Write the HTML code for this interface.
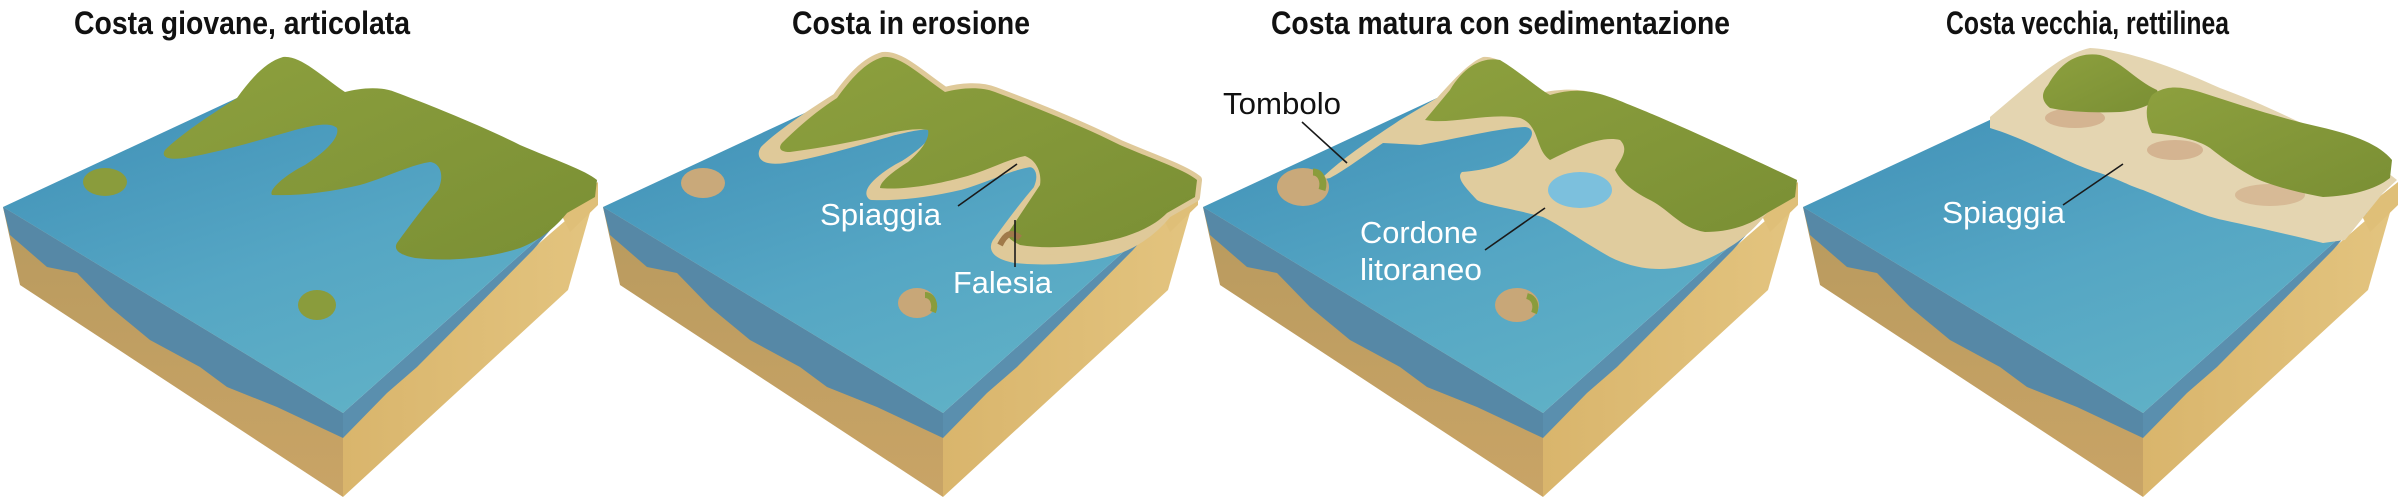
<!DOCTYPE html>
<html><head><meta charset="utf-8"><style>
html,body{margin:0;padding:0;background:#fff;}
svg{display:block;}
.t{font-family:"Liberation Sans Narrow","Liberation Sans",sans-serif;font-weight:bold;font-size:32px;fill:#111;}
.l{font-family:"Liberation Sans Narrow","Liberation Sans",sans-serif;font-size:31px;}
</style></head><body>
<svg width="2402" height="501" viewBox="0 0 2402 501" xmlns="http://www.w3.org/2000/svg">
<defs>
<linearGradient id="wt" x1="0" y1="0" x2="0.6" y2="1">
<stop offset="0" stop-color="#3f8fb6"/><stop offset="0.6" stop-color="#55a6c4"/><stop offset="1" stop-color="#5fb0c6"/></linearGradient>
<linearGradient id="gr" x1="0" y1="0" x2="1" y2="1">
<stop offset="0" stop-color="#8da03e"/><stop offset="1" stop-color="#7a8f34"/></linearGradient>
<linearGradient id="sl" x1="0" y1="0" x2="0" y2="1">
<stop offset="0" stop-color="#b89a5e"/><stop offset="1" stop-color="#c9a466"/></linearGradient>
<linearGradient id="sr" x1="0" y1="0" x2="1" y2="0">
<stop offset="0" stop-color="#d9b56c"/><stop offset="1" stop-color="#e3c47f"/></linearGradient>
<g id="base">
<polygon points="3,207 343,413 343,497 20,285" fill="url(#sl)"/>
<polygon points="343,413 595,195 568,290 343,497" fill="url(#sr)"/>
<polygon points="560,212 598,182 598,205 570,232" fill="#dfbf78"/>
<path d="M3,207 L343,413 L343,438 L277,407 L227,387 L200,367 L150,340 L110,307 L77,273 L47,267 L10,235 Z" fill="#5688a6"/>
<path d="M343,413 L567,213 L553,227 L533,250 L417,367 L387,393 L343,438 Z" fill="#5a8fae"/>
<polygon points="3,207 343,413 567,213 520,175 300,105 237,98" fill="url(#wt)"/>
</g>
</defs>

<text class="t" x="74" y="34" textLength="336" lengthAdjust="spacingAndGlyphs">Costa giovane, articolata</text>
<text class="t" x="792" y="34" textLength="238" lengthAdjust="spacingAndGlyphs">Costa in erosione</text>
<text class="t" x="1271" y="34" textLength="459" lengthAdjust="spacingAndGlyphs">Costa matura con sedimentazione</text>
<text class="t" x="1946" y="34" textLength="283" lengthAdjust="spacingAndGlyphs">Costa vecchia, rettilinea</text>

<!-- Panel 1 -->
<g transform="translate(0,0)">
<use href="#base"/>
<path d="M237,98 C250,80 265,62 283,57 C300,55 320,75 345,92 C360,88 380,86 395,92 C430,105 480,125 520,145 C555,160 585,170 597,180 L595,197 L567,213 C555,228 540,240 520,248 C490,258 450,262 415,258 C400,255 393,250 397,243 C410,225 425,205 438,190 C445,175 440,163 430,162 C410,165 385,178 360,185 C330,192 300,196 272,195 C268,190 285,175 305,165 C325,152 340,138 337,128 C330,122 315,125 295,130 C260,140 220,152 185,158 C170,160 160,158 165,150 C180,135 210,115 237,98 Z" fill="url(#gr)"/>
<ellipse cx="105" cy="182" rx="22" ry="14" fill="#8a9c3c"/>
<ellipse cx="317" cy="305" rx="19" ry="15" fill="#8a9c3c"/>
</g>

<!-- Panel 2 -->
<g transform="translate(600,0)">
<use href="#base"/>
<path d="M237,98 C250,80 265,62 283,57 C300,55 320,75 345,92 C360,88 380,86 395,92 C430,105 480,125 520,145 C555,160 585,170 597,180 L595,197 L567,213 C555,228 540,240 520,248 C490,258 450,262 415,258 C400,255 393,250 397,243 C410,225 425,205 438,190 C445,175 440,163 430,162 C410,165 385,178 360,185 C330,192 300,196 272,195 C268,190 285,175 305,165 C325,152 340,138 337,128 C330,122 315,125 295,130 C260,140 220,152 185,158 C170,160 160,158 165,150 C180,135 210,115 237,98 Z" fill="#dfc999" stroke="#dfc999" stroke-width="10" stroke-linejoin="round"/>
<path d="M237,98 C250,80 265,62 283,57 C300,55 320,75 345,92 C360,88 380,86 395,92 C430,105 480,125 520,145 C555,160 585,170 597,180 L595,197 L567,213 C555,225 540,232 520,238 C490,246 450,250 420,245 C410,240 405,236 410,230 C420,215 430,200 440,185 C442,172 436,160 425,156 C405,160 385,172 360,178 C330,186 300,190 280,188 C280,182 292,172 308,162 C322,150 330,138 328,130 C318,128 305,130 290,133 C255,142 220,148 190,152 C180,152 178,148 182,143 C195,130 215,112 237,98 Z" fill="url(#gr)"/>
<path d="M400,245 C405,235 410,230 420,238" stroke="#a07a4a" stroke-width="6" fill="none"/>
<ellipse cx="103" cy="183" rx="22" ry="15" fill="#c9a97a"/>
<ellipse cx="317" cy="303" rx="19" ry="15" fill="#c8a778"/>
<path d="M325,295 C333,295 336,305 333,312" stroke="#8a9c3c" stroke-width="6" fill="none"/>
</g>

<!-- Panel 3 -->
<g transform="translate(1200,0)">
<use href="#base"/>
<path d="M237,98 C255,78 270,62 283,57 C300,55 320,75 345,92 C380,86 395,92 430,105 C480,125 555,160 597,180 L595,197 L567,213 C550,235 530,250 500,262 C470,272 440,272 410,257 C380,240 360,225 343,217 C310,208 285,205 277,200 C268,190 255,178 262,172 C285,170 310,165 320,150 C335,138 335,128 325,127 C300,128 260,138 220,145 L183,143 C165,155 145,170 130,178 L120,180 C140,160 170,140 200,120 Z" fill="#e0cc9e"/>
<path d="M250,90 C265,65 283,57 300,60 C320,72 340,90 350,95 C380,86 400,92 430,105 C480,125 555,160 597,180 L595,197 L567,213 C550,225 530,232 505,232 C480,228 470,210 450,200 C430,190 420,180 415,170 C420,160 430,150 420,140 C400,135 370,150 350,160 C335,150 340,125 320,118 C290,112 250,125 225,120 Z" fill="url(#gr)"/>
<ellipse cx="380" cy="190" rx="32" ry="18" fill="#7cc0dd"/>
<ellipse cx="103" cy="187" rx="26" ry="19" fill="#c9a97a"/>
<path d="M113,172 C120,172 125,180 122,190" stroke="#8a9c3c" stroke-width="7" fill="none"/>
<ellipse cx="317" cy="305" rx="22" ry="17" fill="#c8a778"/>
<path d="M327,296 C335,298 337,306 334,313" stroke="#8a9c3c" stroke-width="6" fill="none"/>
</g>

<!-- Panel 4 -->
<g transform="translate(1800,0)">
<use href="#base"/>
<path d="M190,128 C230,140 270,165 300,173 C320,180 330,186 343,190 C380,205 400,215 423,220 C460,228 495,236 523,243 L545,240 L583,193 L597,180 C560,150 480,110 420,88 C380,70 330,50 290,48 C260,55 240,75 190,117 Z" fill="#e4d5b1"/>
<ellipse cx="275" cy="118" rx="30" ry="10" fill="#c99f7c" opacity="0.6"/>
<ellipse cx="375" cy="150" rx="28" ry="10" fill="#c99f7c" opacity="0.6"/>
<ellipse cx="470" cy="195" rx="35" ry="11" fill="#c99f7c" opacity="0.5"/>
<path d="M248,85 C262,60 280,52 300,55 C320,60 335,80 357,90 C362,100 345,110 320,112 C295,113 270,112 250,108 C240,100 242,92 248,85 Z" fill="url(#gr)"/>
<path d="M352,95 C365,85 380,86 400,92 C440,105 480,118 520,127 C555,135 580,145 592,160 L590,178 C575,190 550,196 523,197 C495,192 470,185 455,178 C440,170 425,160 410,148 C395,138 370,135 352,133 C345,120 345,105 352,95 Z" fill="url(#gr)"/>
</g>

<!-- labels -->
<line x1="958" y1="206" x2="1017" y2="164" stroke="#1a1a1a" stroke-width="1.6"/>
<text class="l" x="820" y="225" fill="#fff" textLength="121" lengthAdjust="spacingAndGlyphs">Spiaggia</text>
<line x1="1015" y1="220" x2="1015" y2="267" stroke="#1a1a1a" stroke-width="1.6"/>
<text class="l" x="953" y="293" fill="#fff" textLength="99" lengthAdjust="spacingAndGlyphs">Falesia</text>

<text class="l" x="1223" y="114" fill="#111" textLength="118" lengthAdjust="spacingAndGlyphs">Tombolo</text>
<line x1="1302" y1="122" x2="1347" y2="163" stroke="#1a1a1a" stroke-width="1.6"/>
<text class="l" x="1360" y="243" fill="#fff" textLength="118" lengthAdjust="spacingAndGlyphs">Cordone</text>
<text class="l" x="1360" y="280" fill="#fff" textLength="122" lengthAdjust="spacingAndGlyphs">litoraneo</text>
<line x1="1485" y1="250" x2="1545" y2="208" stroke="#1a1a1a" stroke-width="1.6"/>

<text class="l" x="1942" y="223" fill="#fff" textLength="123" lengthAdjust="spacingAndGlyphs">Spiaggia</text>
<line x1="2063" y1="205" x2="2123" y2="164" stroke="#1a1a1a" stroke-width="1.6"/>
</svg>
</body></html>
